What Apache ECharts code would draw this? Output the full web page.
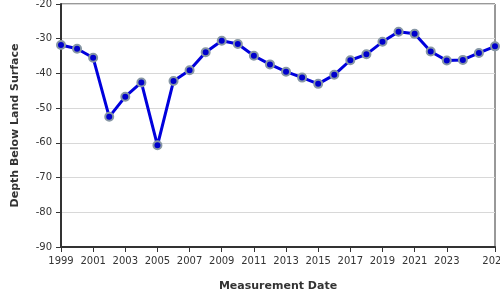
<!DOCTYPE html>
<html>
<head>
<meta charset="utf-8">
<script src="https://cdn.jsdelivr.net/npm/echarts@6/dist/echarts.min.js"></script>
<style>html,body{margin:0;padding:0;background:#fff}#c{width:500px;height:300px}</style>
</head>
<body>
<div id="c"></div>
<script>
const years = [1999,2000,2001,2002,2003,2004,2005,2006,2007,2008,2009,2010,2011,2012,2013,2014,2015,2016,2017,2018,2019,2020,2021,2022,2023,2024,2025,2026];
const depths = [-31.8,-32.9,-35.5,-52.5,-46.7,-42.6,-60.7,-42.2,-39.1,-33.9,-30.6,-31.5,-34.9,-37.4,-39.5,-41.2,-43.0,-40.4,-36.2,-34.5,-30.9,-28.0,-28.6,-33.7,-36.3,-36.1,-34.1,-32.2];
const xLabel = 'Measurement Date';
const yLabel = 'Depth Below Land Surface';

const chart = echarts.init(document.getElementById('c'), null, {renderer:'canvas'});
const font = 'DejaVu Sans';
chart.setOption({
  animation:false,
  backgroundColor:'#fff',
  grid:{left:61,right:5,top:4,bottom:53,show:true,borderColor:'#333',borderWidth:1,backgroundColor:'transparent',containLabel:false,outerBoundsMode:'none'},
  xAxis:{
    type:'value', min:1999, max:2026, interval:2,
    name:xLabel, nameLocation:'middle', nameGap:34,
    nameTextStyle:{fontFamily:font,fontSize:11,fontWeight:'bold',color:'#333'},
    axisLine:{lineStyle:{color:'#333',width:2}},
    axisTick:{show:true,length:5,lineStyle:{color:'#333',width:1}},
    axisLabel:{fontFamily:font,fontSize:10,color:'#333',margin:9,showMaxLabel:true,showMinLabel:true,formatter:v=>String(v)},
    splitLine:{show:false}
  },
  yAxis:{
    type:'value', min:-90, max:-20, interval:10,
    name:yLabel, nameLocation:'middle', nameGap:40,
    nameTextStyle:{fontFamily:font,fontSize:11,fontWeight:'bold',color:'#333'},
    axisLine:{show:true,lineStyle:{color:'#333',width:2}},
    axisTick:{show:true,length:5,lineStyle:{color:'#333',width:1}},
    axisLabel:{fontFamily:font,fontSize:10,color:'#333',margin:9},
    splitLine:{show:true,lineStyle:{color:'#d8d8d8',width:1}}
  },
  series:[{
    type:'line',
    data:years.map((y,i)=>[y,depths[i]]),
    symbol:'circle', symbolSize:8,
    lineStyle:{color:'#0000dd',width:3},
    itemStyle:{color:'#0000cc',borderColor:'#8797a5',borderWidth:2},
    clip:false
  }]
});
</script>
</body>
</html>
